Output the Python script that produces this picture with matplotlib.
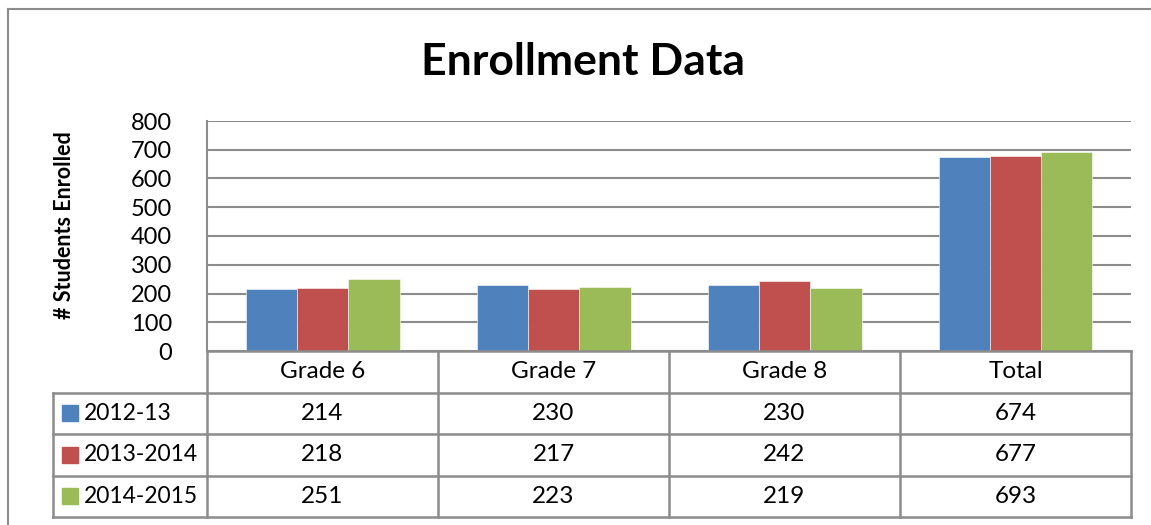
import matplotlib.pyplot as plt
from matplotlib.patches import Rectangle

# data
categories = ["Grade 6", "Grade 7", "Grade 8", "Total"]
series_names = ["2012-13", "2013-2014", "2014-2015"]
vals_2012 = [214, 230, 230, 674]
vals_2013 = [218, 217, 242, 677]
vals_2014 = [251, 223, 219, 693]
colors = ["#4F81BD", "#C0504D", "#9BBB59"]
yticks = [0, 100, 200, 300, 400, 500, 600, 700, 800]

plt.rcParams['font.family'] = ['Lato', 'DejaVu Sans']
W, H = 1151, 525
grey = "#8c8c8c"

fig = plt.figure(figsize=(W / 100, H / 100), dpi=100)


def box(x0, y0, x1, y1):
    # pixel box (top-left origin) -> figure fraction rect
    return [x0 / W, 1 - y1 / H, (x1 - x0) / W, (y1 - y0) / H]


# outer chart border (left + top visible)
fig.add_artist(plt.Line2D([8 / W, 8 / W], [0, 1 - 9 / H], transform=fig.transFigure, color=grey, lw=1.5))
fig.add_artist(plt.Line2D([8 / W, 1], [1 - 9 / H, 1 - 9 / H], transform=fig.transFigure, color=grey, lw=1.5))

fig.text(583 / W, 1 - 62 / H, "Enrollment Data", ha="center", va="center",
         fontsize=32, fontweight="bold")

ax = fig.add_axes(box(207, 121, 1131, 351))
series = [vals_2012, vals_2013, vals_2014]
bw = 1 / 4.5
for k, (vals, c) in enumerate(zip(series, colors)):
    xs = [i + (k - 1) * bw for i in range(len(categories))]
    ax.bar(xs, vals, width=bw, color=c, edgecolor="white", linewidth=0.4, zorder=3)

ax.set_xlim(-0.5, len(categories) - 0.5)
ax.set_ylim(0, 800)
ax.set_yticks(yticks)
ax.tick_params(axis="y", length=0, pad=25, labelsize=17)
ax.tick_params(axis="x", length=0, labelbottom=False)
ax.grid(axis="y", color=grey, lw=1.5, zorder=0)
for s in ["top", "right", "bottom"]:
    ax.spines[s].set_visible(False)
ax.spines["left"].set_color(grey)
ax.spines["left"].set_linewidth(1.5)
ax.set_ylabel("# Students Enrolled", fontsize=15.5, fontweight="bold")
ax.yaxis.set_label_coords((75 - 207) / 924, (351 - 225) / 230)

# data table below the plot, same x units as the bars
lx = -0.5 - (207 - 53) / 231
tax = fig.add_axes(box(53, 351, 1131, 517))
tax.set_xlim(lx, len(categories) - 0.5)
tax.set_ylim(4, 0)
tax.axis("off")
lw = 1.8
tax.plot([-0.5, 3.5], [0, 0], color=grey, lw=lw, clip_on=False)
for r in [1, 2, 3, 4]:
    tax.plot([lx, 3.5], [r, r], color=grey, lw=lw, clip_on=False)
tax.plot([lx, lx], [1, 4], color=grey, lw=lw, clip_on=False)
for i in range(len(categories) + 1):
    tax.plot([i - 0.5, i - 0.5], [0, 4], color=grey, lw=lw, clip_on=False)

for i, cat in enumerate(categories):
    tax.text(i, 0.5, cat, ha="center", va="center", fontsize=17.5)
for r, (name, vals, c) in enumerate(zip(series_names, series, colors), start=1):
    tax.add_patch(Rectangle((lx + 9 / 231, r + 0.31), 16 / 231, 0.38, color=c))
    tax.text(lx + 31 / 231, r + 0.5, name, ha="left", va="center", fontsize=16.5)
    for i, v in enumerate(vals):
        tax.text(i, r + 0.5, str(v), ha="center", va="center", fontsize=17.5)

fig.savefig("out.png", dpi=100)
